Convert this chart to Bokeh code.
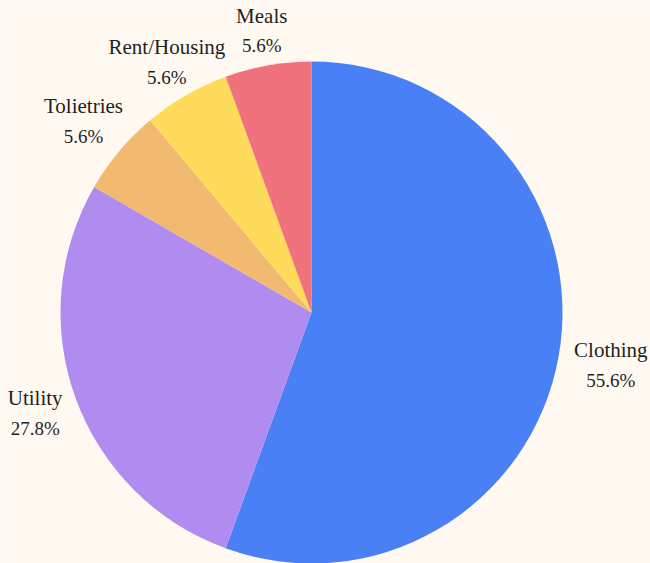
import math
from bokeh.plotting import figure
from bokeh.models import Range1d, ColumnDataSource
from bokeh.core.properties import value
from bokeh.embed import file_html
from bokeh.resources import INLINE

categories = ["Clothing", "Utility", "Tolietries", "Rent/Housing", "Meals"]
amounts = [10, 5, 1, 1, 1]
colors = ["#4A80F6", "#B08CF1", "#F2B970", "#FFDB5B", "#EF727D"]

BG = "#FFF9F1"
W, H = 650, 563
FS = 21
FS2 = 19
p = figure(width=W, height=H, output_backend="svg", toolbar_location=None,
           x_range=Range1d(0, W), y_range=Range1d(0, H),
           min_border=0, background_fill_color=BG, border_fill_color=BG)
p.axis.visible = False
p.grid.visible = False
p.outline_line_color = None

cx, cy, R = 311, H - 312, 251
total = sum(amounts)
starts, ends, pcts = [], [], []
cum = 0.0
for a in amounts:
    s = cum / total * 360
    cum += a
    e = cum / total * 360
    starts.append(math.radians(90 - e))
    ends.append(math.radians(90 - s))
    pcts.append(f"{a / total * 100:.1f}%")

src = ColumnDataSource(dict(start=starts, end=ends, color=colors, cat=categories, pct=pcts))
p.wedge(x=cx, y=cy, radius=R, start_angle="start", end_angle="end",
        fill_color="color", line_color=None, source=src)


def text_w(s, fs):
    return sum(0.3 if c in "iltfjr./" else 0.55 for c in s) * fs


lx, ly1, ly2 = [], [], []
anchor_r = 265
for i, cat in enumerate(categories):
    mid = (starts[i] + ends[i]) / 2
    dx, dy = math.cos(mid), math.sin(mid)
    ax, ay = cx + dx * anchor_r, cy + dy * anchor_r
    w = max(text_w(cat, FS), text_w(pcts[i], FS2))
    h = 42
    t = min((w / 2) / max(abs(dx), 1e-6), (h / 2) / max(abs(dy), 1e-6))
    x0, y0 = ax + dx * t, ay + dy * t
    lx.append(x0)
    ly1.append(y0 + 15)
    ly2.append(y0 - 15)

lsrc = ColumnDataSource(dict(x=lx, y1=ly1, y2=ly2, cat=categories, pct=pcts))
font = value("Liberation Serif")
p.text(x="x", y="y1", text="cat", source=lsrc, text_align="center", text_baseline="middle",
       text_font=font, text_font_size=f"{FS}px", text_color="#1f1f1f")
p.text(x="x", y="y2", text="pct", source=lsrc, text_align="center", text_baseline="middle",
       text_font=font, text_font_size=f"{FS2}px", text_color="#1f1f1f")

open("out.html", "w").write(file_html(p, INLINE))
